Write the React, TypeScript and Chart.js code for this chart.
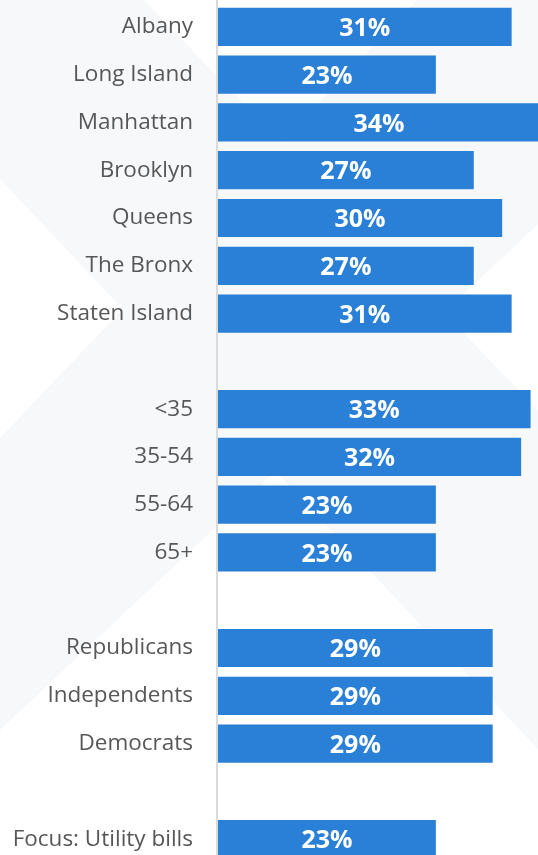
import React, { useEffect, useRef } from "react";
import { Chart, registerables } from "chart.js";

Chart.register(...registerables);

const regions = ["Albany", "Long Island", "Manhattan", "Brooklyn", "Queens", "The Bronx", "Staten Island"];
const regionValues = [31, 23, 34, 27, 30, 27, 31];
const ages = ["<35", "35-54", "55-64", "65+"];
const ageValues = [33, 32, 23, 23];
const parties = ["Republicans", "Independents", "Democrats"];
const partyValues = [29, 29, 29];
const focus = ["Focus: Utility bills"];
const focusValues = [23];

const labels: string[] = [...regions, "", ...ages, "", ...parties, "", ...focus];
const values: (number | null)[] = [...regionValues, null, ...ageValues, null, ...partyValues, null, ...focusValues];

const BAR = "#2a7fd6";
const WM = "#f7f8fa";

const watermark = {
  id: "watermark",
  beforeDraw(chart: any) {
    const ctx = chart.ctx;
    ctx.save();
    ctx.fillStyle = "#ffffff";
    ctx.fillRect(0, 0, chart.width, chart.height);
    ctx.fillStyle = WM;
    // "\" band
    ctx.beginPath();
    ctx.moveTo(144, 0);
    ctx.lineTo(600, 475);
    ctx.lineTo(600, 815);
    ctx.lineTo(-169, 0);
    ctx.closePath();
    ctx.fill();
    // "/" band
    ctx.beginPath();
    ctx.moveTo(417, 0);
    ctx.lineTo(600, 0);
    ctx.lineTo(600, 166);
    ctx.lineTo(0, 730);
    ctx.lineTo(0, 438);
    ctx.closePath();
    ctx.fill();
    ctx.restore();
  },
  beforeDatasetsDraw(chart: any) {
    const ctx = chart.ctx;
    const x = chart.chartArea.left - 1;
    ctx.save();
    ctx.strokeStyle = "#dadada";
    ctx.lineWidth = 2;
    ctx.beginPath();
    ctx.moveTo(x, 0);
    ctx.lineTo(x, chart.height);
    ctx.stroke();
    ctx.restore();
  },
};

const valueLabels = {
  id: "valueLabels",
  afterDatasetsDraw(chart: any) {
    const ctx = chart.ctx;
    const meta = chart.getDatasetMeta(0);
    ctx.save();
    ctx.fillStyle = "#ffffff";
    ctx.font = "bold 25px 'Open Sans'";
    ctx.textAlign = "center";
    ctx.textBaseline = "middle";
    meta.data.forEach((el: any, i: number) => {
      const v = chart.data.datasets[0].data[i];
      if (v == null) return;
      const cx = (el.x + el.base) / 2;
      ctx.fillText(v + "%", cx, el.y + 2);
    });
    ctx.restore();
  },
};

export default function App() {
  const ref = useRef<HTMLCanvasElement>(null);
  useEffect(() => {
    const canvas = ref.current!;
    const chart = new Chart(canvas, {
      type: "bar",
      data: {
        labels,
        datasets: [
          {
            data: values,
            backgroundColor: BAR,
            borderWidth: 0,
            barPercentage: 0.8,
            categoryPercentage: 1,
          },
        ],
      },
      options: {
        indexAxis: "y",
        animation: false,
        responsive: false,
        devicePixelRatio: 1,
        layout: { padding: { top: 3, right: 0, bottom: 0, left: 0 } },
        plugins: { legend: { display: false }, tooltip: { enabled: false } },
        scales: {
          x: { display: false, min: 0, max: 36, grid: { display: false } },
          y: {
            afterFit(scale: any) {
              scale.width = 218;
              scale.paddingTop = 0;
              scale.paddingBottom = 0;
            },
            grid: { display: false, drawTicks: false },
            border: { display: false },
            ticks: {
              padding: 25,
              color: "#575757",
              font: { family: "'Open Sans'", size: 22.5 },
              autoSkip: false,
            },
          },
        },
      },
      plugins: [watermark, valueLabels],
    });
    return () => chart.destroy();
  }, []);
  return (
    <div style={{ position: "absolute", left: 0, top: 0, width: 538, height: 855, overflow: "hidden", background: "#fff" }}>
      <canvas ref={ref} width={559} height={863} style={{ display: "block", width: 559, height: 863 }} />
    </div>
  );
}
